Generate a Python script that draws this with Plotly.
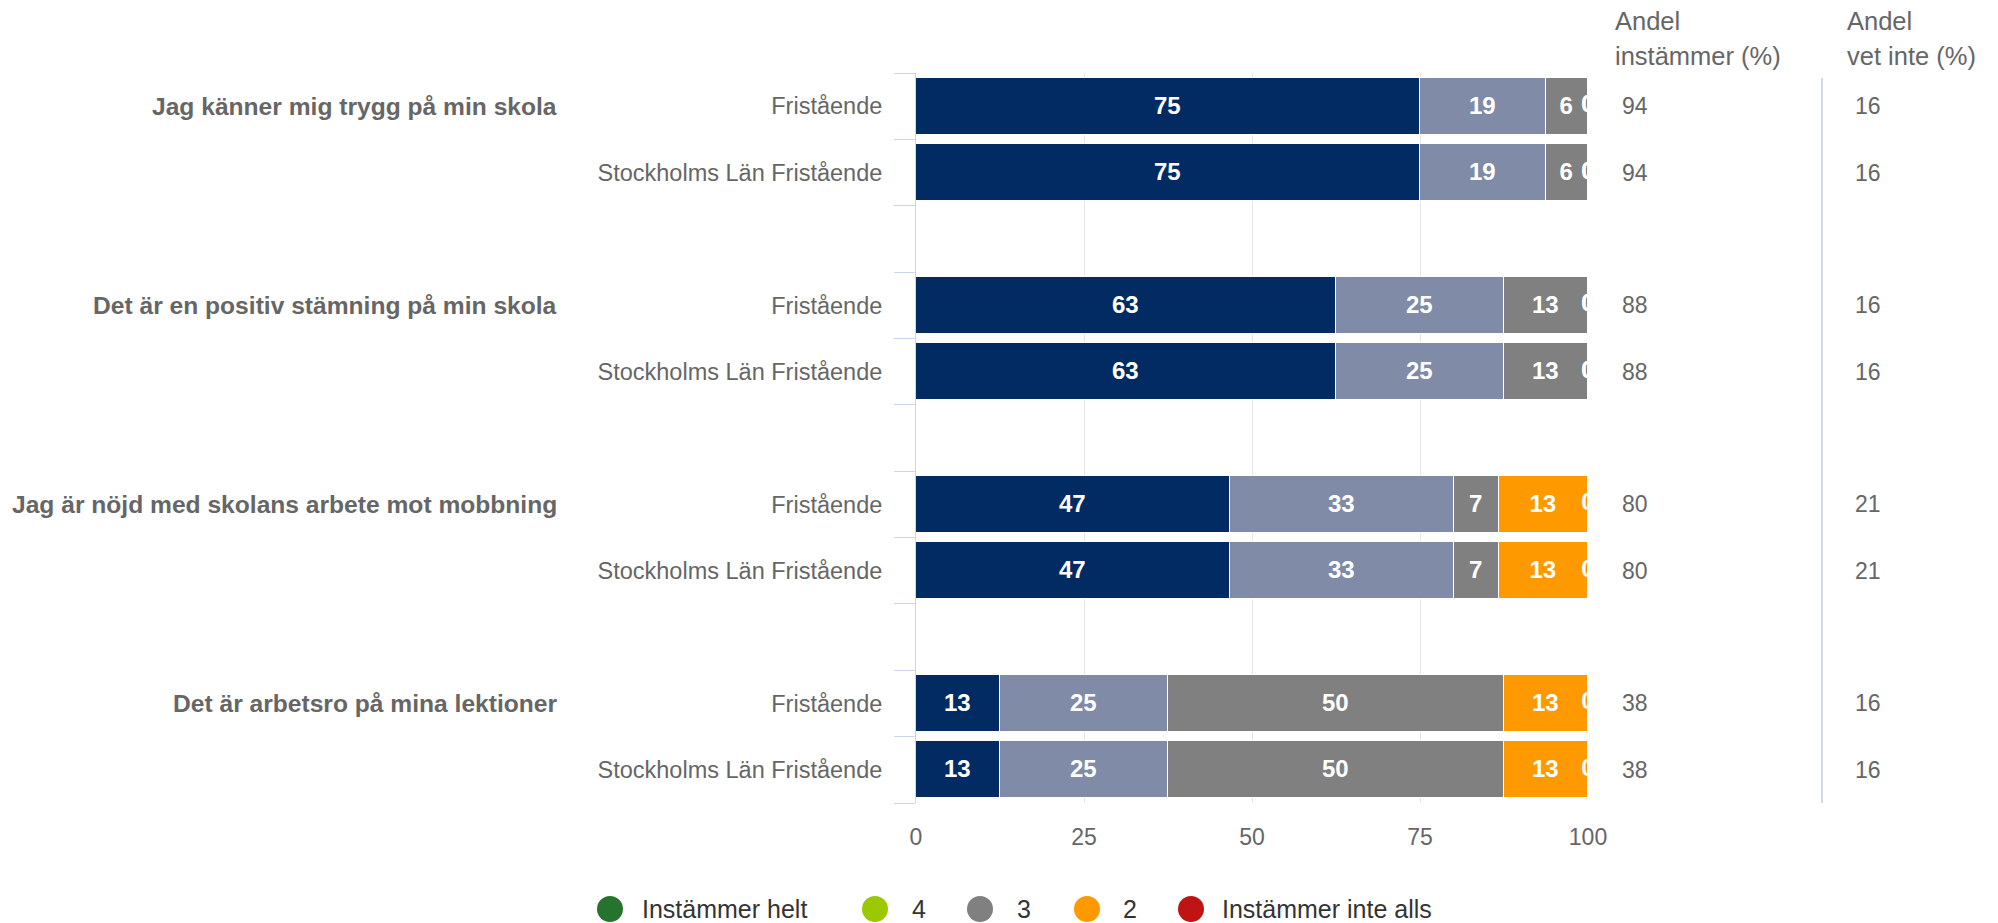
import math
import plotly.graph_objects as go

# ---------------- data ----------------
groups = [
    "Jag känner mig trygg på min skola",
    "Det är en positiv stämning på min skola",
    "Jag är nöjd med skolans arbete mot mobbning",
    "Det är arbetsro på mina lektioner",
]
subgroups = ["Fristående", "Stockholms Län Fristående"]
series_names = ["Instämmer helt", "4", "3", "2", "Instämmer inte alls"]

# one value per row (group x subgroup, top to bottom)
instammer_helt = [75, 75, 62.5, 62.5, 46.7, 46.7, 12.5, 12.5]
svar_4 = [18.75, 18.75, 25, 25, 33.3, 33.3, 25, 25]
svar_3 = [6.25, 6.25, 12.5, 12.5, 6.7, 6.7, 50, 50]
svar_2 = [0, 0, 0, 0, 13.3, 13.3, 12.5, 12.5]
instammer_inte_alls = [0, 0, 0, 0, 0, 0, 0, 0]

andel_instammer = [94, 94, 88, 88, 80, 80, 38, 38]
andel_vet_inte = [16, 16, 16, 16, 21, 21, 16, 16]

x_ticks = [0, 25, 50, 75, 100]
header_1 = ["Andel", "instämmer (%)"]
header_2 = ["Andel", "vet inte (%)"]

# ---------------- styles ----------------
bar_colors = ["#022b63", "#808ba7", "#808080", "#ff9900", "#be1414"]
legend_colors = ["#26732e", "#9bc800", "#808080", "#ff9900", "#be1414"]
FONT = "Liberation Sans, Arial, Helvetica, sans-serif"
TXT = "#666666"

OFF = 8                      # page body margin
W, H = 1998 - 2 * OFF, 923 - OFF
PL, PR, PT, PB = 916, 1588, 73, 803  # plot area in page pixels


def px2x(px):
    return (px - PL) / (PR - PL)


def py2y(py):
    return (PB - py) / (PB - PT)


# row positions: each group has two rows and one empty slot after it
n_sub = len(subgroups)
slot = n_sub + 1
positions, labels = [], []
for gi, _ in enumerate(groups):
    for si, s in enumerate(subgroups):
        positions.append(gi * slot + si)
        labels.append(s)
n_slots = len(groups) * slot - 1
boundaries = [i - 0.5 for i in range(n_slots + 1)]


def fmt(v):
    return str(int(math.floor(v + 0.5)))


series = [instammer_helt, svar_4, svar_3, svar_2, instammer_inte_alls]

fig = go.Figure()
base = [0.0] * len(positions)
zero_x, zero_y = [], []
for name, vals, col in zip(series_names, series, bar_colors):
    fig.add_trace(go.Bar(
        name=name, orientation="h", x=vals, y=positions,
        marker=dict(color=col, line=dict(color="#ffffff", width=1.5)),
        width=0.86,
        text=[fmt(v) if v > 0 else "" for v in vals],
        texttemplate="%{text}", textposition="inside",
        insidetextanchor="middle",
        textfont=dict(family=FONT, size=24, color="#ffffff", weight="bold"),
        showlegend=False, hoverinfo="x+name",
    ))
    for i, v in enumerate(vals):
        base[i] += v
        if v == 0:
            zero_x.append(base[i])
            zero_y.append(positions[i])

# labels of zero-width segments (sit at the bar end, clipped by plot area)
fig.add_trace(go.Scatter(
    x=zero_x, y=zero_y, mode="text", text=["0"] * len(zero_x),
    textposition="middle center", cliponaxis=True,
    textfont=dict(family=FONT, size=24, color="#ffffff", weight="bold"),
    yaxis="y2", showlegend=False, hoverinfo="skip",
))

annotations = []
# group labels (aligned with the first row of each group)
for gi, g in enumerate(groups):
    annotations.append(dict(
        text=g, xref="paper", yref="y", x=px2x(559), y=gi * slot,
        xanchor="right", yanchor="middle", showarrow=False,
        font=dict(family=FONT, size=24.6, color=TXT, weight="bold"),
    ))
# right-hand columns
for p, a, v in zip(positions, andel_instammer, andel_vet_inte):
    annotations.append(dict(text=str(a), xref="paper", yref="y", x=px2x(1620), y=p,
                            xanchor="left", yanchor="middle", showarrow=False,
                            font=dict(family=FONT, size=23, color=TXT)))
    annotations.append(dict(text=str(v), xref="paper", yref="y", x=px2x(1853), y=p,
                            xanchor="left", yanchor="middle", showarrow=False,
                            font=dict(family=FONT, size=23, color=TXT)))
for hdr, hx in [(header_1, 1613), (header_2, 1845)]:
    for line_txt, ly in zip(hdr, [21, 56]):
        annotations.append(dict(text=line_txt, xref="paper", yref="paper", x=px2x(hx),
                                y=py2y(ly), xanchor="left", yanchor="middle",
                                align="left", showarrow=False,
                                font=dict(family=FONT, size=25.5, color=TXT)))

shapes = [dict(type="line", xref="paper", yref="paper", x0=px2x(1822), x1=px2x(1822),
               y0=py2y(78), y1=0, line=dict(color="#d0d9ea", width=2))]

# custom legend with large circles
leg_circles = [610, 875, 980, 1087, 1191]
leg_texts = [640, 910, 1015, 1121, 1220]
leg_y = 909
for name, col, cx, tx in zip(series_names, legend_colors, leg_circles, leg_texts):
    shapes.append(dict(type="circle", xref="paper", yref="paper",
                       xsizemode="pixel", ysizemode="pixel",
                       xanchor=px2x(cx), yanchor=py2y(leg_y),
                       x0=-13, x1=13, y0=-13, y1=13,
                       fillcolor=col, line=dict(width=0)))
    annotations.append(dict(text=name, xref="paper", yref="paper", x=px2x(tx), y=py2y(leg_y),
                            xanchor="left", yanchor="middle", showarrow=False,
                            font=dict(family=FONT, size=25, color="#333333")))

fig.update_layout(
    width=W, height=H,
    margin=dict(l=PL - OFF, r=W - (PR - OFF), t=PT - OFF, b=H - (PB - OFF), pad=0),
    barmode="stack", bargap=0,
    plot_bgcolor="#ffffff", paper_bgcolor="#ffffff",
    font=dict(family=FONT, color=TXT),
    showlegend=False,
    xaxis=dict(range=[0, 100], tickvals=x_ticks, showgrid=True, gridcolor="#e6e6e6",
               gridwidth=1, zeroline=False, showline=False, ticks="",
               ticklabelstandoff=18, tickfont=dict(family=FONT, size=23, color=TXT),
               fixedrange=True),
    yaxis=dict(range=[n_slots - 0.5, -0.5], tickvals=positions, ticktext=labels,
               showgrid=False, zeroline=False, showline=True, linecolor="#ccd6eb",
               linewidth=1, ticks="outside", ticklen=28, tickcolor="rgba(0,0,0,0)",
               tickfont=dict(family=FONT, size=23.5, color=TXT), fixedrange=True),
    yaxis2=dict(range=[n_slots - 0.5, -0.5], overlaying="y", side="left",
                tickvals=boundaries, showticklabels=False, ticks="outside",
                ticklen=21, tickwidth=1, tickcolor="#ccd6eb", showgrid=False,
                zeroline=False, showline=False, fixedrange=True),
    annotations=annotations,
    shapes=shapes,
)

fig.write_html("out.html")
